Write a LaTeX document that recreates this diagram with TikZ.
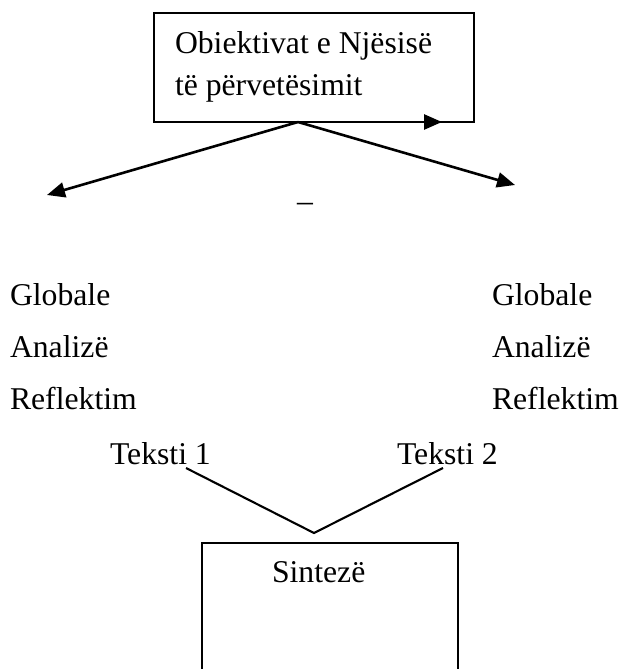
\documentclass[tikz,border=0pt]{standalone}
\usepackage{fontspec}
\setmainfont{Liberation Serif}
\usetikzlibrary{arrows.meta}
\begin{document}
\begin{tikzpicture}[x=1pt, y=-1pt,
  every node/.style={inner sep=0pt, outer sep=0pt, font=\fontsize{31.7}{42}\selectfont},
  frame/.style={draw, line width=1.8pt, fill=none},
  word/.style={anchor=base west},
  pointer/.style={line width=2.6pt, -{Triangle[length=18pt, width=15pt]}},
  link/.style={line width=2.1pt}]
  \useasboundingbox (0,0) rectangle (621,669);
  \clip (0,0) rectangle (621,669);

  % heading box
  \node[frame, anchor=north west, minimum width=320pt, minimum height=109pt] (top) at (154,13) {};
  \node[word] (head1) at (175,53) {Obiektivat e Njësisë};
  \node[word] (head2) at (175,95) {të përvetësimit};

  % arrows out of the heading box
  \coordinate (apex) at (298,122);
  \coordinate (ltip) at (47,195);
  \coordinate (rtip) at (515,185);
  \coordinate (edgeA) at (233,122);
  \coordinate (edgeB) at (442,122);
  \draw[pointer] (apex) -- (ltip);
  \draw[pointer] (apex) -- (rtip);
  \draw[pointer] (edgeA) -- (edgeB);
  \node[word] (dash) at (297,211) {–};

  % two columns
  \node[word] (g1) at (10,305) {Globale};
  \node[word] (a1) at (10,357) {Analizë};
  \node[word] (r1) at (10,409) {Reflektim};
  \node[word] (g2) at (492,305) {Globale};
  \node[word] (a2) at (492,357) {Analizë};
  \node[word] (r2) at (492,409) {Reflektim};

  \node[word] (t1) at (110,464) {Teksti 1};
  \node[word] (t2) at (397,464) {Teksti 2};

  % joining lines
  \coordinate (j1) at (186,468);
  \coordinate (jm) at (314,533);
  \coordinate (j2) at (443,468);
  \draw[link] (j1) -- (jm) -- (j2);

  % synthesis box
  \node[frame, anchor=north west, minimum width=256pt, minimum height=200pt] (syn) at (202,543) {};
  \node[word] (syntext) at (272,582) {Sintezë};
\end{tikzpicture}
\end{document}
